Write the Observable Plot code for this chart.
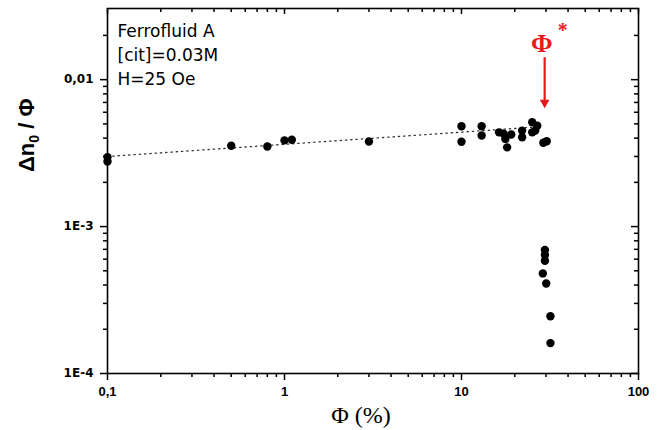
<!DOCTYPE html>
<html><head><meta charset="utf-8">
<script src="https://cdn.jsdelivr.net/npm/d3@7"></script>
<script src="https://cdn.jsdelivr.net/npm/@observablehq/plot@0.6"></script>
<style>body{margin:0;background:#fff}</style>
</head><body><div id="chart"></div>
<script>
// ---- data ----
const phi = [0.1, 0.1, 0.5, 0.8, 1.0, 1.1, 3.0, 10, 10, 13, 13,
  16.3, 17.3, 17.7, 18.1, 19.1, 22.0, 22.0, 25.1, 26.8, 25.1, 26.1, 29.0, 30.3,
  29.6, 29.6, 29.6, 28.8, 30.1, 31.8, 31.8];
const dn = [0.00297, 0.00277, 0.00355, 0.00351, 0.00386, 0.0039, 0.00379, 0.00482, 0.00378, 0.00482, 0.00417,
  0.00438, 0.00428, 0.00395, 0.00346, 0.00423, 0.0045, 0.00405, 0.00513, 0.00486, 0.00438, 0.0045, 0.00372, 0.00381,
  0.000692, 0.00064, 0.000585, 0.00048, 0.00041, 0.000245, 0.000161];
const fitPhi = [0.1, 25];
const fitDn = [0.00300, 0.00474];
const xTickValues = [0.1, 1, 10, 100];
const xTickLabels = ["0,1", "1", "10", "100"];
const yTickValues = [1e-4, 1e-3, 1e-2];
const yTickLabels = ["1E-4", "1E-3", "0,01"];
const infoLines = ["Ferrofluid A", "[cit]=0.03M", "H=25 Oe"];
const phiStar = 29.5;
const arrowFrom = 0.0141, arrowTo = 0.0068, arrowTip = 0.00635;
const starLabel = "Φ", starSup = "*";
const xTitle = "Φ (%)";
const yTitle = "Δn0 / Φ";

// ---- layout ----
const W = 664, H = 430, mL = 107, mR = 26, mT = 8, mB = 57;
const innerW = W - mL - mR, innerH = H - mT - mB;
const red = "#e8191b";
const sans = "Liberation Sans, Arial, sans-serif";
const wide = "DejaVu Sans, Verdana, sans-serif";
const serif = "Liberation Serif, Times New Roman, serif";

const points = phi.map((p, i) => ({phi: p, v: dn[i]}));
const fit = fitPhi.map((p, i) => ({phi: p, v: fitDn[i]}));
const minorX = [0.1, 1, 10].flatMap(d => d3.range(2, 10).map(k => k * d));
const minorY = [1e-4, 1e-3].flatMap(d => d3.range(2, 10).map(k => k * d)).concat([0.02]);
const fmtX = d => xTickLabels[xTickValues.indexOf(d)];
const fmtY = d => yTickLabels[yTickValues.indexOf(d)];
const none = () => "";
const ax = {label: null, strokeWidth: 1.5};

const chart = Plot.plot({
  width: W, height: H,
  marginLeft: mL, marginRight: mR, marginTop: mT, marginBottom: mB,
  x: {type: "log", domain: [0.1, 100]},
  y: {type: "log", domain: [1e-4, 0.0305]},
  style: {fontFamily: sans, fontSize: "13px", fontWeight: "bold", color: "black", background: "white"},
  marks: [
    Plot.axisX(xTickValues, {...ax, tickSize: 7, tickPadding: 6, tickFormat: fmtX}),
    Plot.axisX(minorX, {...ax, tickSize: 4, tickFormat: none}),
    Plot.axisX(xTickValues, {...ax, tickSize: 6, dy: -innerH, tickFormat: none}),
    Plot.axisX(minorX, {...ax, tickSize: 4, dy: -innerH, tickFormat: none}),
    Plot.axisY(yTickValues, {...ax, tickSize: 7, tickPadding: 7, tickFormat: fmtY,
      fontFamily: wide, fontSize: 12, fontWeight: "bold"}),
    Plot.axisY(minorY, {...ax, tickSize: 4, tickFormat: none}),
    Plot.axisY(yTickValues, {...ax, tickSize: 7, dx: innerW, tickFormat: none}),
    Plot.axisY(minorY, {...ax, tickSize: 4, dx: innerW, tickFormat: none}),
    Plot.frame({stroke: "black", strokeWidth: 1.6}),
    Plot.line(fit, {x: "phi", y: "v", stroke: "#333", strokeWidth: 1.3, strokeDasharray: "1.3,4"}),
    Plot.dot(points, {x: "phi", y: "v", r: 4.2, fill: "black"}),
    Plot.ruleX([phiStar], {x: d => d, y1: () => arrowFrom, y2: () => arrowTo, stroke: red, strokeWidth: 2.2}),
    Plot.dot([phiStar], {x: d => d, y: () => arrowTip, symbol: "triangle", rotate: 180, r: 3.6, fill: red, dy: -6}),
    Plot.text([starLabel], {x: () => phiStar, frameAnchor: "top", lineAnchor: "bottom", dx: -3, dy: 43,
      fill: red, fontSize: 26, fontWeight: "bold", fontFamily: serif}),
    Plot.text([starSup], {x: () => phiStar, frameAnchor: "top", lineAnchor: "bottom", dx: 18, dy: 28,
      fill: red, fontSize: 20, fontWeight: "bold", fontFamily: serif}),
    ...infoLines.map((t, i) => Plot.text([t], {frameAnchor: "top-left", textAnchor: "start", lineAnchor: "bottom",
      dx: 10, dy: 28 + i * 24, fontSize: 17, fontWeight: "normal", fontFamily: wide, fill: "black"})),
    Plot.text([xTitle], {frameAnchor: "bottom", lineAnchor: "bottom", dx: -12, dy: 49, fontSize: 24,
      fontWeight: "normal", fontFamily: serif, fill: "black"}),
    Plot.text([yTitle], {frameAnchor: "left", rotate: -90, dx: -81, dy: -19, fontSize: 22,
      fontWeight: "bold", fill: "black"})
  ]
});

// subscript for the y title
d3.select(chart).selectAll("text").filter(function() { return this.textContent === yTitle; })
  .each(function() {
    const t = d3.select(this);
    t.text(null);
    t.append("tspan").text("Δn");
    t.append("tspan").attr("font-size", "14px").attr("dy", "5px").text("0");
    t.append("tspan").attr("dy", "-5px").text(" / Φ");
  });

document.getElementById("chart").appendChild(chart);
</script>
</body></html>
